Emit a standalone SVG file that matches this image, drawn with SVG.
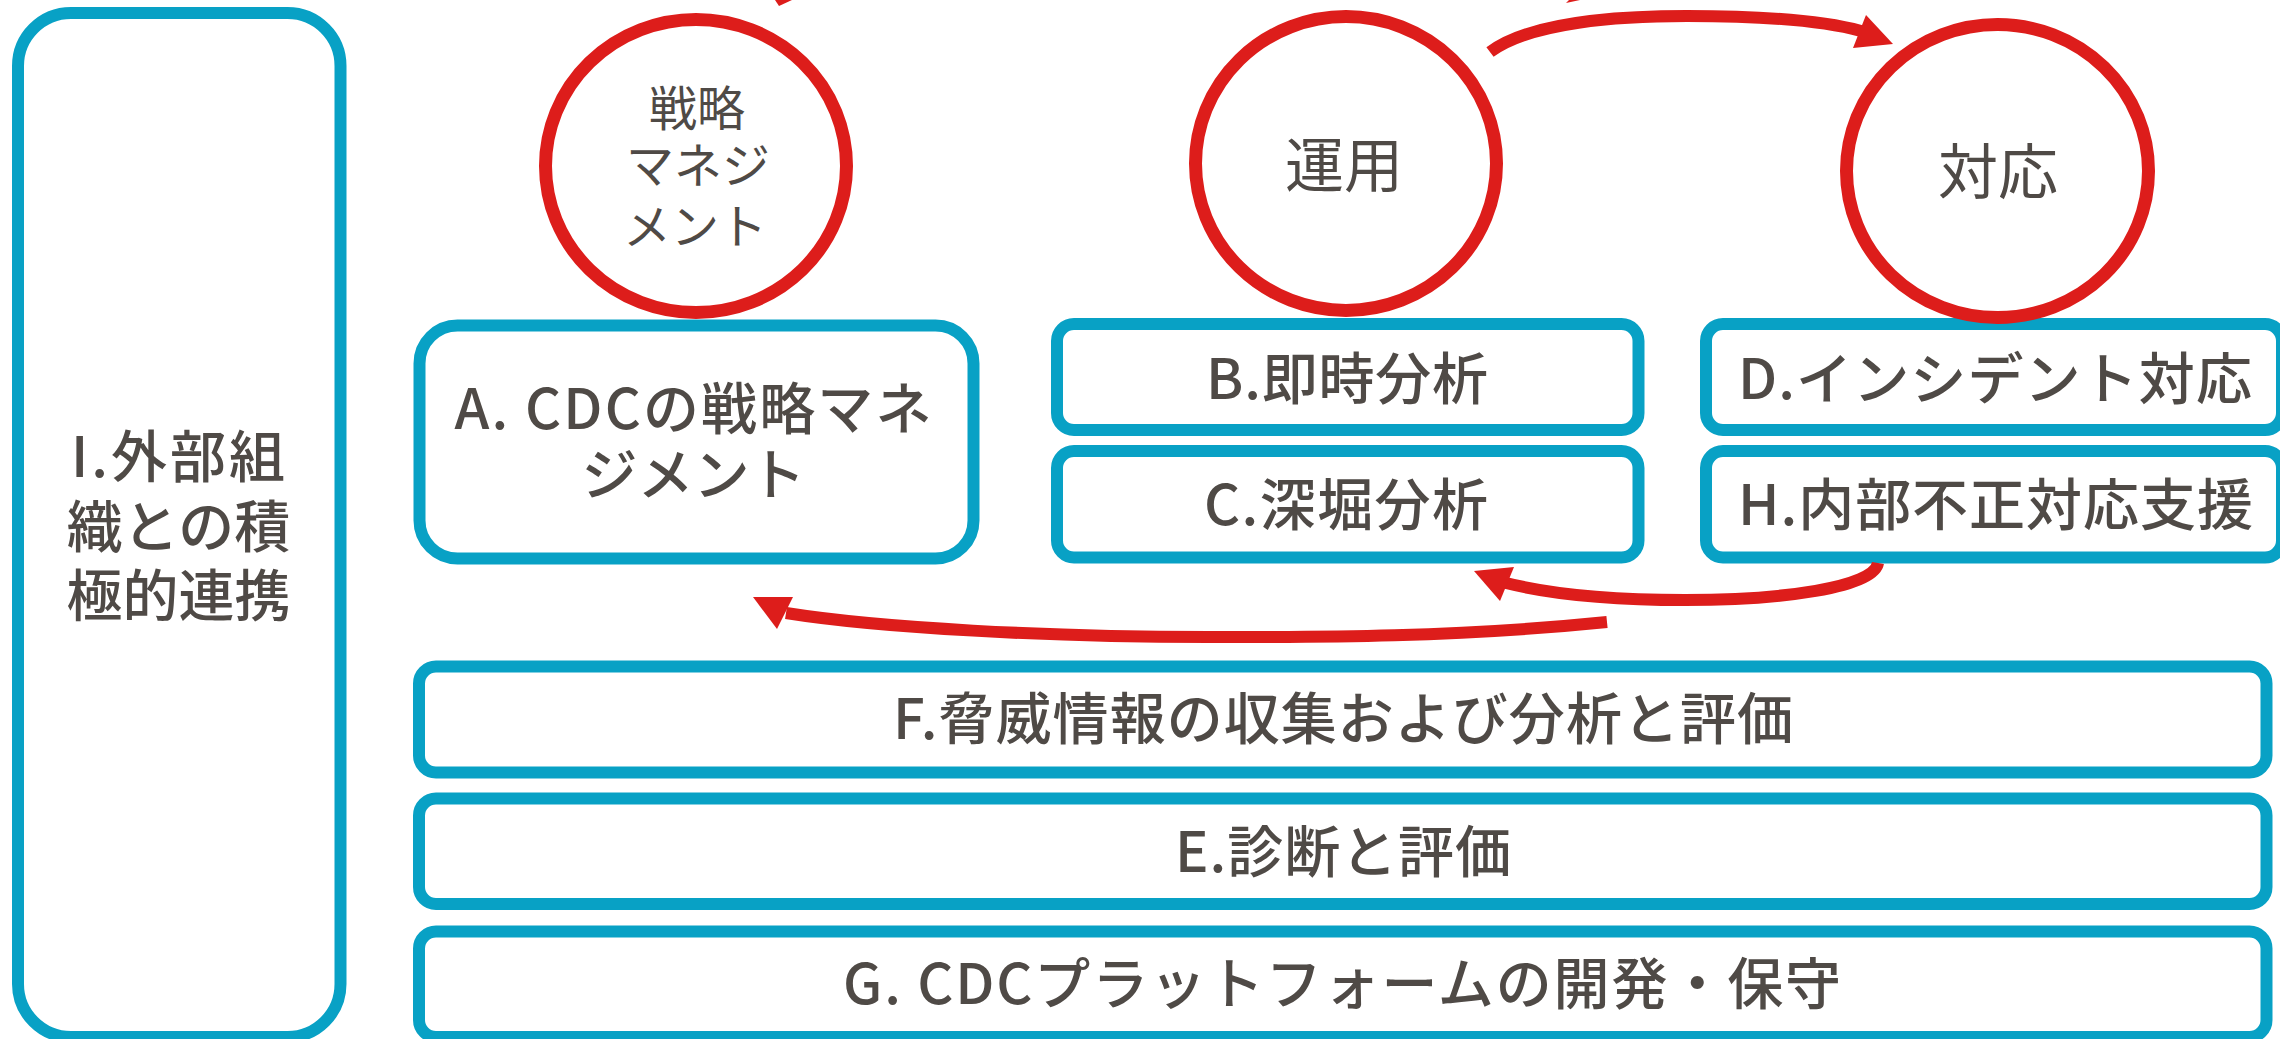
<svg xmlns="http://www.w3.org/2000/svg" width="2280" height="1039" viewBox="0 0 2280 1039">
<style>
.box{fill:#ffffff;stroke:#08a1c5;stroke-width:12}
.ring{fill:#ffffff;stroke:#dd1d1b;stroke-width:13}
.t{font-family:"Noto Sans CJK JP","Noto Sans",sans-serif;fill:#4f4a46;text-anchor:middle;dominant-baseline:central;font-weight:500;font-size:56px}
.c{font-family:"Noto Sans CJK JP","Noto Sans",sans-serif;fill:#4f4a46;text-anchor:middle;dominant-baseline:central;font-weight:400}
.arr{fill:none;stroke:#dd1d1b;stroke-width:12}
.head{fill:#dd1d1b}
</style>
<rect width="2280" height="1039" fill="#ffffff"/>

<g id="node-I">
<rect class="box" x="18" y="13" width="322.5" height="1024" rx="53"/>
<text class="t" x="178" y="452" textLength="214">I.外部組</text>
<text class="t" x="178.5" y="522">織との積</text>
<text class="t" x="178.5" y="591">極的連携</text>
</g>

<g id="node-A">
<rect class="box" x="419.5" y="325.5" width="554" height="233" rx="38"/>
<text class="t" x="693" y="404" font-size="54" textLength="477">A. CDCの戦略マネ</text>
<text class="t" x="693.5" y="470" font-size="54">ジメント</text>
</g>

<g id="node-B">
<rect class="box" x="1057" y="324" width="581.5" height="106" rx="17"/>
<text class="t" x="1347" y="374" textLength="282">B.即時分析</text>
</g>

<g id="node-C">
<rect class="box" x="1057" y="451" width="581.5" height="106.5" rx="17"/>
<text class="t" x="1346" y="500.5" textLength="284">C.深堀分析</text>
</g>

<g id="node-D">
<rect class="box" x="1706" y="324" width="576" height="106" rx="17"/>
<text class="t" x="1995" y="374" textLength="514">D.インシデント対応</text>
</g>

<g id="node-H">
<rect class="box" x="1706" y="451" width="576" height="106.5" rx="17"/>
<text class="t" x="1995.5" y="500" textLength="515">H.内部不正対応支援</text>
</g>

<g id="node-F">
<rect class="box" x="419" y="666.5" width="1847.5" height="106" rx="17"/>
<text class="t" x="1343" y="714" textLength="900">F.脅威情報の収集および分析と評価</text>
</g>

<g id="node-E">
<rect class="box" x="419" y="798.5" width="1847.5" height="105.5" rx="17"/>
<text class="t" x="1343" y="847" textLength="336">E.診断と評価</text>
</g>

<g id="node-G">
<rect class="box" x="419" y="931.5" width="1847.5" height="105.5" rx="17"/>
<text class="t" x="1342" y="979" textLength="998">G. CDCプラットフォームの開発・保守</text>
</g>

<g id="node-strategy">
<ellipse class="ring" cx="696" cy="166" rx="150.5" ry="146.5"/>
<text class="c" x="697" y="104.5" font-size="48">戦略</text>
<text class="c" x="698" y="161.5" font-size="48">マネジ</text>
<text class="c" x="695" y="223" font-size="48">メント</text>
</g>

<g id="node-operation">
<ellipse class="ring" cx="1346" cy="163.5" rx="150.5" ry="147"/>
<text class="c" x="1344" y="161" font-size="59">運用</text>
</g>

<g id="node-response">
<ellipse class="ring" cx="1997.5" cy="171" rx="151" ry="146.5"/>
<text class="c" x="1998" y="167" font-size="60">対応</text>
</g>

<g id="connectors">
<path class="arr" d="M1490,52 C1530,22 1620,16 1687,16 C1760,16 1825,21 1861,31"/>
<polygon class="head" points="1866,15 1853,48 1893,44"/>
<path class="arr" d="M1878,563 C1874,588 1780,600 1685,600 C1610,600 1550,594 1506,583"/>
<polygon class="head" points="1474,571 1514,567 1500,601"/>
<path class="arr" d="M1607,622 C1450,638 1300,637 1208,637 C1050,637 880,628 786,613"/>
<polygon class="head" points="753,597 793,597 777,629"/>
<polygon class="head" points="775,0 792,0 779,6"/>
<polygon class="head" points="1569,0 1580,0 1566,3"/>
</g>
</svg>
